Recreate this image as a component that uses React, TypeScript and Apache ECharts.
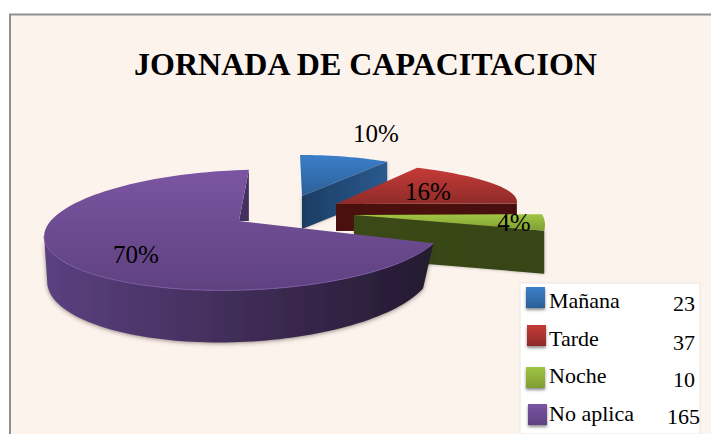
import React, { useEffect, useRef } from "react";
import * as echarts from "echarts";

const categories = ["Mañana", "Tarde", "Noche", "No aplica"];
const values = [23, 37, 10, 165];
const titleText = "JORNADA DE CAPACITACION";

const FONT = '"Liberation Serif", serif';

type Ell = { cx: number; cy: number; rx: number; ry: number; tilt: number };
const topEllipses: Ell[] = [
  { cx: 300, cy: 192, rx: 151, ry: 37, tilt: 0 },
  { cx: 281, cy: 202, rx: 236, ry: 42, tilt: 0 },
  { cx: 354, cy: 225, rx: 191, ry: 62, tilt: 0 },
  { cx: 244, cy: 230, rx: 200, ry: 60, tilt: -2 },
];
const spins = [0, 0, -12, 2];
const apexes = [[302, 196], [336, 204], [354, 215], [239, 221]];
const depths = [33, 27, 43, 42];
const topGrad = [
  ["#3b7fc8", "#2b5f99"],
  ["#c53b37", "#8e2b29"],
  ["#a0c544", "#7f9e32"],
  ["#7b55a2", "#5f4180"],
];
const faceColors = [
  ["#1c3d63", "#2a5a8e"],
  ["#4a100e", "#470f0d"],
  ["#3b4918", "#374416"],
  ["#5b4080", "#241a30"],
];
const labelPos = [[376, 133], [428, 191], [514, 222], [136, 254]];
const purpleBottom: Ell = { cx: 240, cy: 274, rx: 193, ry: 68, tilt: -2.5 };
const legendNameY = [300, 338, 375, 413];
const legendValueY = [303, 342, 379, 416];
const legendSwatches = [[526, 287], [527, 325], [526, 367], [528, 404]];

function pt(e: Ell, deg: number) {
  const a = (deg * Math.PI) / 180;
  const x = e.rx * Math.sin(a);
  const y = -e.ry * Math.cos(a);
  const t = (e.tilt * Math.PI) / 180;
  return [e.cx + x * Math.cos(t) - y * Math.sin(t), e.cy + x * Math.sin(t) + y * Math.cos(t)];
}
function arc(e: Ell, a0: number, a1: number) {
  const n = Math.max(4, Math.ceil(Math.abs(a1 - a0) / 2));
  const out: number[][] = [];
  for (let i = 0; i <= n; i++) out.push(pt(e, a0 + ((a1 - a0) * i) / n));
  return out;
}
const linear = (horizontal: boolean, c: string[]) =>
  new echarts.graphic.LinearGradient(0, 0, horizontal ? 1 : 0, horizontal ? 0 : 1, [
    { offset: 0, color: c[0] },
    { offset: 1, color: c[1] },
  ]);

export default function App() {
  const ref = useRef<HTMLDivElement>(null);
  useEffect(() => {
    const chart = echarts.init(ref.current!, undefined, { renderer: "svg" });
    const total = values.reduce((a, b) => a + b, 0);
    const starts: number[] = [];
    values.reduce((acc, v, i) => {
      starts[i] = acc;
      return acc + v;
    }, 0);

    const renderItem = (params: any, api: any) => {
      const i = params.dataIndex;
      const v = api.value(0);
      const a0 = (starts[i] / total) * 360 + spins[i];
      const a1 = a0 + (v / total) * 360;
      const e = topEllipses[i];
      const apex = apexes[i];
      const d = depths[i];
      const children: any[] = [];
      const top = arc(e, a0, a1);
      const edge = top[top.length - 1];

      if (i === 3) {
        const wallTop = arc(e, a0, 271);
        const wallBottom = arc(purpleBottom, 271, a0);
        children.push({
          type: "polygon",
          shape: { points: [...wallTop, ...wallBottom] },
          style: {
            fill: linear(true, faceColors[3]),
            shadowBlur: 4,
            shadowColor: "rgba(60,50,40,0.55)",
            shadowOffsetY: 1,
          },
        });
        children.push({
          type: "polygon",
          shape: { points: [apex, edge, [edge[0], apex[1]]] },
          style: { fill: "#43305f" },
        });
      } else {
        children.push({
          type: "polygon",
          shape: {
            points: [apex, edge, [edge[0], edge[1] + d], [apex[0], apex[1] + d]],
          },
          style: {
            fill: linear(true, faceColors[i]),
            shadowBlur: i === 1 ? 0 : 3,
            shadowColor: "rgba(60,50,40,0.45)",
          },
        });
      }
      children.push({
        type: "polygon",
        shape: { points: [apex, ...top] },
        style: { fill: linear(false, topGrad[i]) },
      });
      if (i === 3) {
        children.push({
          type: "polyline",
          shape: { points: arc(e, a0, 271) },
          style: { fill: "none", stroke: "#7a58a2", lineWidth: 1 },
        });
      }
      children.push({
        type: "text",
        x: labelPos[i][0],
        y: labelPos[i][1],
        z2: 100,
        style: {
          text: `${Math.round((v / total) * 100)}%`,
          fill: "#000",
          font: `25px ${FONT}`,
          align: "center",
          verticalAlign: "middle",
        },
      });
      return { type: "group", children };
    };

    const graphic: any[] = [
      {
        type: "rect",
        z: -10,
        shape: { x: 10, y: 14.5, width: 720, height: 440 },
        style: { fill: "#fcf3ed", stroke: "#8f8f8f", lineWidth: 2 },
      },
      {
        type: "rect",
        z: 10,
        shape: { x: 520, y: 283, width: 180, height: 151 },
        style: { fill: "#ffffff", stroke: "#e8e6e4", lineWidth: 1 },
      },
      {
        type: "text",
        z: 11,
        x: 365.5,
        y: 64,
        style: {
          text: titleText,
          fill: "#000",
          font: `bold 32px ${FONT}`,
          align: "center",
          verticalAlign: "middle",
        },
      },
    ];
    categories.forEach((name, i) => {
      graphic.push(
        {
          type: "rect",
          z: 11,
          shape: { x: legendSwatches[i][0], y: legendSwatches[i][1], width: 19, height: 21 },
          style: {
            fill: linear(false, topGrad[i]),
            shadowBlur: 3,
            shadowColor: "rgba(0,0,0,0.45)",
            shadowOffsetY: 2,
          },
        },
        {
          type: "text",
          z: 11,
          x: 549,
          y: legendNameY[i],
          style: { text: name, fill: "#000", font: `22px ${FONT}`, align: "left", verticalAlign: "middle" },
        },
        {
          type: "text",
          z: 11,
          x: i === 3 ? 700 : 695,
          y: legendValueY[i],
          style: { text: String(values[i]), fill: "#000", font: `22px ${FONT}`, align: "right", verticalAlign: "middle" },
        }
      );
    });

    chart.setOption({
      animation: false,
      backgroundColor: "#ffffff",
      graphic,
      series: [
        {
          type: "custom",
          coordinateSystem: "none",
          renderItem,
          z: 5,
          data: values.map((v) => [v]),
        },
      ],
    });
    return () => chart.dispose();
  }, []);
  return <div ref={ref} style={{ position: "absolute", left: 0, top: 0, width: 711, height: 434 }} />;
}
